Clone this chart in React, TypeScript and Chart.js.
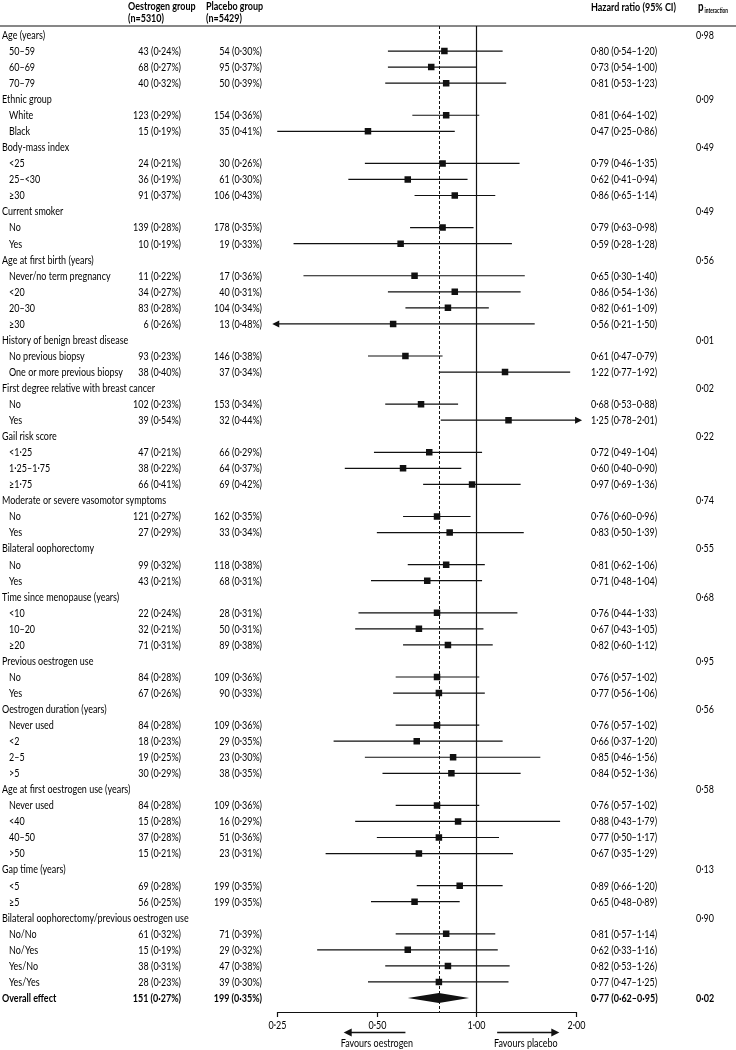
import React, { useEffect, useRef } from "react";
import { Chart, registerables } from "chart.js";

Chart.register(...registerables);

const rowLabels: string[] = [
  "Age (years)", "50–59", "60–69", "70–79",
  "Ethnic group", "White", "Black",
  "Body-mass index", "<25", "25–<30", "≥30",
  "Current smoker", "No", "Yes",
  "Age at first birth (years)", "Never/no term pregnancy", "<20", "20–30", "≥30",
  "History of benign breast disease", "No previous biopsy", "One or more previous biopsy",
  "First degree relative with breast cancer", "No", "Yes",
  "Gail risk score", "<1·25", "1·25–1·75", "≥1·75",
  "Moderate or severe vasomotor symptoms", "No", "Yes",
  "Bilateral oophorectomy", "No", "Yes",
  "Time since menopause (years)", "<10", "10–20", "≥20",
  "Previous oestrogen use", "No", "Yes",
  "Oestrogen duration (years)", "Never used", "<2", "2–5", ">5",
  "Age at first oestrogen use (years)", "Never used", "<40", "40–50", ">50",
  "Gap time (years)", "<5", "≥5",
  "Bilateral oophorectomy/previous oestrogen use", "No/No", "No/Yes", "Yes/No", "Yes/Yes",
  "Overall effect",
];

const oestrogenEvents: (number | null)[] = [
  null, 43, 68, 40, null, 123, 15, null, 24, 36, 91, null, 139, 10,
  null, 11, 34, 83, 6, null, 93, 38, null, 102, 39, null, 47, 38, 66,
  null, 121, 27, null, 99, 43, null, 22, 32, 71, null, 84, 67,
  null, 84, 18, 19, 30, null, 84, 15, 37, 15, null, 69, 56,
  null, 61, 15, 38, 28, 151,
];
const oestrogenPct: (number | null)[] = [
  null, 0.24, 0.27, 0.32, null, 0.29, 0.19, null, 0.21, 0.19, 0.37, null, 0.28, 0.19,
  null, 0.22, 0.27, 0.28, 0.26, null, 0.23, 0.40, null, 0.23, 0.54, null, 0.21, 0.22, 0.41,
  null, 0.27, 0.29, null, 0.32, 0.21, null, 0.24, 0.21, 0.31, null, 0.28, 0.26,
  null, 0.28, 0.23, 0.25, 0.29, null, 0.28, 0.28, 0.28, 0.21, null, 0.28, 0.25,
  null, 0.32, 0.19, 0.31, 0.23, 0.27,
];
const placeboEvents: (number | null)[] = [
  null, 54, 95, 50, null, 154, 35, null, 30, 61, 106, null, 178, 19,
  null, 17, 40, 104, 13, null, 146, 37, null, 153, 32, null, 66, 64, 69,
  null, 162, 33, null, 118, 68, null, 28, 50, 89, null, 109, 90,
  null, 109, 29, 23, 38, null, 109, 16, 51, 23, null, 199, 199,
  null, 71, 29, 47, 39, 199,
];
const placeboPct: (number | null)[] = [
  null, 0.30, 0.37, 0.39, null, 0.36, 0.41, null, 0.26, 0.30, 0.43, null, 0.35, 0.33,
  null, 0.36, 0.31, 0.34, 0.48, null, 0.38, 0.34, null, 0.34, 0.44, null, 0.29, 0.37, 0.42,
  null, 0.35, 0.34, null, 0.38, 0.31, null, 0.31, 0.31, 0.38, null, 0.36, 0.33,
  null, 0.36, 0.35, 0.30, 0.35, null, 0.36, 0.29, 0.36, 0.31, null, 0.35, 0.35,
  null, 0.39, 0.32, 0.38, 0.30, 0.35,
];
const hazardRatio: (number | null)[] = [
  null, 0.80, 0.73, 0.81, null, 0.81, 0.47, null, 0.79, 0.62, 0.86, null, 0.79, 0.59,
  null, 0.65, 0.86, 0.82, 0.56, null, 0.61, 1.22, null, 0.68, 1.25, null, 0.72, 0.60, 0.97,
  null, 0.76, 0.83, null, 0.81, 0.71, null, 0.76, 0.67, 0.82, null, 0.76, 0.77,
  null, 0.76, 0.66, 0.85, 0.84, null, 0.76, 0.88, 0.77, 0.67, null, 0.89, 0.65,
  null, 0.81, 0.62, 0.82, 0.77, 0.77,
];
const ciLower: (number | null)[] = [
  null, 0.54, 0.54, 0.53, null, 0.64, 0.25, null, 0.46, 0.41, 0.65, null, 0.63, 0.28,
  null, 0.30, 0.54, 0.61, 0.21, null, 0.47, 0.77, null, 0.53, 0.78, null, 0.49, 0.40, 0.69,
  null, 0.60, 0.50, null, 0.62, 0.48, null, 0.44, 0.43, 0.60, null, 0.57, 0.56,
  null, 0.57, 0.37, 0.46, 0.52, null, 0.57, 0.43, 0.50, 0.35, null, 0.66, 0.48,
  null, 0.57, 0.33, 0.53, 0.47, 0.62,
];
const ciUpper: (number | null)[] = [
  null, 1.20, 1.00, 1.23, null, 1.02, 0.86, null, 1.35, 0.94, 1.14, null, 0.98, 1.28,
  null, 1.40, 1.36, 1.09, 1.50, null, 0.79, 1.92, null, 0.88, 2.01, null, 1.04, 0.90, 1.36,
  null, 0.96, 1.39, null, 1.06, 1.04, null, 1.33, 1.05, 1.12, null, 1.02, 1.06,
  null, 1.02, 1.20, 1.56, 1.36, null, 1.02, 1.79, 1.17, 1.29, null, 1.20, 0.89,
  null, 1.14, 1.16, 1.26, 1.25, 0.95,
];
const pInteraction: (number | null)[] = [
  0.98, null, null, null, 0.09, null, null, 0.49, null, null, null, 0.49, null, null,
  0.56, null, null, null, null, 0.01, null, null, 0.02, null, null, 0.22, null, null, null,
  0.74, null, null, 0.55, null, null, 0.68, null, null, null, 0.95, null, null,
  0.56, null, null, null, null, 0.58, null, null, null, null, 0.13, null, null,
  0.90, null, null, null, null, 0.02,
];

const tickValues = [0.25, 0.5, 1, 2];
const tickLabels = ["0·25", "0·50", "1·00", "2·00"];

const AXIS_MIN = 0.25;
const AXIS_MAX = 2;
const FONT = "Lato";
const FS = 12;

const fmt = (v: number) => v.toFixed(2).replace(".", "·");

const overallIndex = rowLabels.length - 1;

let SX = 0.75;

function drawText(
  ctx: CanvasRenderingContext2D,
  s: string,
  x: number,
  y: number,
  align: CanvasTextAlign,
  bold = false,
  size = FS
) {
  ctx.save();
  ctx.font = `${bold ? "bold " : ""}${size}px ${FONT}`;
  ctx.textAlign = align;
  ctx.textBaseline = "middle";
  ctx.fillStyle = "#000";
  ctx.translate(x, y);
  ctx.scale(SX, 1);
  ctx.fillText(s, 0, 0);
  ctx.restore();
}

const forestPlugin = {
  id: "forest",
  beforeDatasetsDraw(chart: any) {
    const { ctx, chartArea, scales } = chart;
    const x = scales.x;
    ctx.save();
    ctx.strokeStyle = "#111";
    ctx.lineWidth = 1.2;
    ctx.beginPath();
    ctx.moveTo(0, chartArea.top);
    ctx.lineTo(chart.width, chartArea.top);
    ctx.stroke();
    const x1 = Math.round(x.getPixelForValue(1)) + 0.5;
    ctx.lineWidth = 1.2;
    ctx.beginPath();
    ctx.moveTo(x1, chartArea.top);
    ctx.lineTo(x1, chartArea.bottom);
    ctx.stroke();
    const xo = Math.round(x.getPixelForValue(hazardRatio[overallIndex] as number)) + 0.5;
    ctx.lineWidth = 1;
    ctx.setLineDash([3, 2]);
    ctx.beginPath();
    ctx.moveTo(xo, chartArea.top);
    ctx.lineTo(xo, chartArea.bottom);
    ctx.stroke();
    ctx.restore();
  },
  afterDatasetsDraw(chart: any) {
    const { ctx, chartArea, scales } = chart;
    const x = scales.x;
    const y = scales.y;
    ctx.save();
    ctx.fillStyle = "#111";
    ctx.strokeStyle = "#111";

    rowLabels.forEach((_, i) => {
      const lo = ciLower[i];
      const hi = ciUpper[i];
      if (lo == null || hi == null || i === overallIndex) return;
      const py = y.getPixelForValue(i);
      if (lo < AXIS_MIN) {
        const bx = x.getPixelForValue(AXIS_MIN) + 2;
        ctx.beginPath();
        ctx.moveTo(bx - 7, py);
        ctx.lineTo(bx, py - 3.5);
        ctx.lineTo(bx, py + 3.5);
        ctx.closePath();
        ctx.fill();
      }
      if (hi > AXIS_MAX) {
        const bx = x.getPixelForValue(AXIS_MAX) - 1;
        ctx.beginPath();
        ctx.moveTo(bx + 7, py);
        ctx.lineTo(bx, py - 3.5);
        ctx.lineTo(bx, py + 3.5);
        ctx.closePath();
        ctx.fill();
      }
    });

    {
      const i = overallIndex;
      const py = y.getPixelForValue(i);
      const xl = x.getPixelForValue(ciLower[i] as number);
      const xm = x.getPixelForValue(hazardRatio[i] as number);
      const xr = x.getPixelForValue(ciUpper[i] as number);
      ctx.beginPath();
      ctx.moveTo(xl, py);
      ctx.lineTo(xm, py - 5);
      ctx.lineTo(xr, py);
      ctx.lineTo(xm, py + 5);
      ctx.closePath();
      ctx.fill();
    }

    const ab = chartArea.bottom;
    ctx.lineWidth = 1.2;
    ctx.beginPath();
    ctx.moveTo(x.getPixelForValue(AXIS_MIN), ab + 0.5);
    ctx.lineTo(x.getPixelForValue(AXIS_MAX), ab + 0.5);
    ctx.stroke();
    tickValues.forEach((v, k) => {
      const px = Math.round(x.getPixelForValue(v)) + 0.5;
      ctx.beginPath();
      ctx.moveTo(px, ab);
      ctx.lineTo(px, ab + 5);
      ctx.stroke();
      drawText(ctx, tickLabels[k], px, ab + 13, "center");
    });

    const ay = ab + 20.5;
    const arrow = (from: number, to: number) => {
      const xf = x.getPixelForValue(from);
      const xt = x.getPixelForValue(to);
      const dir = xt > xf ? 1 : -1;
      ctx.lineWidth = 1.5;
      ctx.beginPath();
      ctx.moveTo(xf, ay);
      ctx.lineTo(xt - dir * 6, ay);
      ctx.stroke();
      ctx.beginPath();
      ctx.moveTo(xt, ay);
      ctx.lineTo(xt - dir * 8, ay - 4);
      ctx.lineTo(xt - dir * 8, ay + 4);
      ctx.closePath();
      ctx.fill();
    };
    arrow(0.61, 0.397);
    arrow(1.155, 1.78);
    drawText(ctx, "Favours oestrogen", x.getPixelForValue(0.5), ab + 31.5, "center");
    drawText(ctx, "Favours placebo", x.getPixelForValue(1.41), ab + 31.5, "center");

    drawText(ctx, "Oestrogen group", 128, 6, "left", true);
    drawText(ctx, "(n=5310)", 128, 18, "left", true);
    drawText(ctx, "Placebo group", 206, 6, "left", true);
    drawText(ctx, "(n=5429)", 206, 18, "left", true);
    drawText(ctx, "Hazard ratio (95% CI)", 591, 7, "left", true);
    drawText(ctx, "p", 698, 7, "left", true, 13);
    drawText(ctx, "interaction", 704.5, 10.5, "left", true, 6.5);

    rowLabels.forEach((label, i) => {
      const py = y.getPixelForValue(i);
      const bold = i === overallIndex;
      const isGroup = hazardRatio[i] == null;
      drawText(ctx, label, isGroup || bold ? 2 : 9, py, "left", bold);
      const oe = oestrogenEvents[i];
      const op = oestrogenPct[i];
      if (oe != null && op != null) drawText(ctx, `${oe} (${fmt(op)}%)`, 181, py, "right", bold);
      const pe = placeboEvents[i];
      const pp = placeboPct[i];
      if (pe != null && pp != null) drawText(ctx, `${pe} (${fmt(pp)}%)`, 262, py, "right", bold);
      const hr = hazardRatio[i];
      const lo = ciLower[i];
      const hi = ciUpper[i];
      if (hr != null && lo != null && hi != null)
        drawText(ctx, `${fmt(hr)} (${fmt(lo)}–${fmt(hi)})`, 591, py, "left", bold);
      const p = pInteraction[i];
      if (p != null) drawText(ctx, fmt(p), 696, py, "left", bold);
    });

    ctx.restore();
  },
};

export default function App() {
  const ref = useRef<HTMLCanvasElement>(null);
  useEffect(() => {
    document.body.style.margin = "0";
    const canvas = ref.current!;
    const c2 = canvas.getContext("2d")!;
    c2.font = `${FS}px ${FONT}`;
    const w1 = c2.measureText("Bilateral oophorectomy/previous oestrogen use").width;
    const w2 = c2.measureText("One or more previous biopsy").width;
    const w3 = c2.measureText("38 (0·40%)").width;
    SX = Math.min(204 / w1, 114 / w2, 55 / w3);

    const squares: { x: number; y: number }[] = [];
    const ciLine: { x: number; y: number | null }[] = [];
    rowLabels.forEach((_, i) => {
      const hr = hazardRatio[i];
      const lo = ciLower[i];
      const hi = ciUpper[i];
      if (hr == null || lo == null || hi == null || i === overallIndex) return;
      squares.push({ x: hr, y: i });
      const l = Math.max(lo, AXIS_MIN);
      const h = Math.min(hi, AXIS_MAX);
      ciLine.push({ x: l, y: i }, { x: h, y: i }, { x: h, y: null });
    });

    const chart = new Chart(canvas, {
      type: "scatter",
      data: {
        datasets: [
          {
            data: squares,
            pointStyle: "rect",
            pointRadius: 4.6,
            pointBorderWidth: 0,
            backgroundColor: "#111",
            borderColor: "#111",
            showLine: false,
          } as any,
          {
            data: ciLine,
            showLine: true,
            spanGaps: false,
            pointRadius: 0,
            borderColor: "#111",
            borderWidth: 1.2,
          } as any,
        ],
      },
      options: {
        responsive: false,
        animation: false,
        events: [],
        layout: { padding: { left: 245.2, right: 127.9, top: 26, bottom: 38 } },
        plugins: { legend: { display: false }, tooltip: { enabled: false } },
        scales: {
          x: { type: "logarithmic", min: 0.2, max: 2.5, display: false },
          y: { type: "linear", reverse: true, min: -0.5607, max: 60.872, display: false },
        },
      },
      plugins: [forestPlugin],
    });
    return () => chart.destroy();
  }, []);
  return (
    <div style={{ width: 736, height: 1050 }}>
      <canvas ref={ref} width={736} height={1050} style={{ display: "block" }} />
    </div>
  );
}
